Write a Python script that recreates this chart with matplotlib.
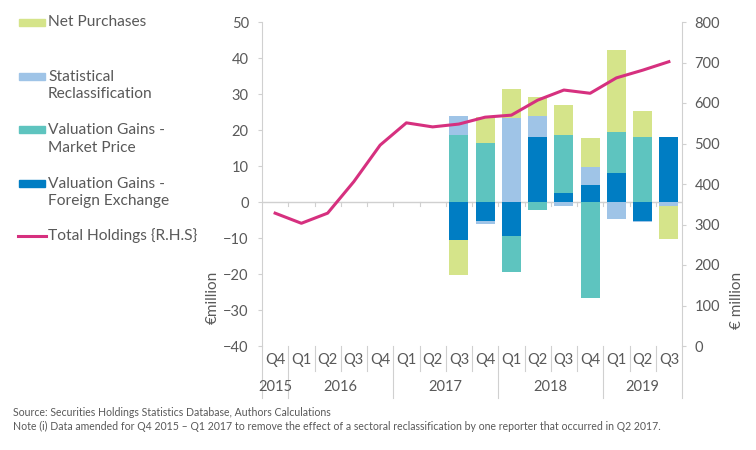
"""Holdings decomposition chart: stacked flows (L.H.S) with total holdings (R.H.S)."""
import matplotlib
matplotlib.use('Agg')
import matplotlib.pyplot as plt
import matplotlib.transforms as mtrans
from matplotlib.patches import Rectangle
from matplotlib.lines import Line2D
import numpy as np

plt.rcParams.update({
    'font.family': ['Lato', 'DejaVu Sans'],
    'font.size': 10.5,
    'axes.edgecolor': '#D0D0D0',
    'xtick.color': '#595959',
    'ytick.color': '#595959',
})

TXT = '#595959'
GREEN = '#D5E48A'
LBLUE = '#9FC4E7'
TEAL = '#5EC4BF'
DBLUE = '#007DC3'
PINK = '#D6307F'
GRID = '#D0D0D0'

quarters = ['Q4', 'Q1', 'Q2', 'Q3', 'Q4', 'Q1', 'Q2', 'Q3',
            'Q4', 'Q1', 'Q2', 'Q3', 'Q4', 'Q1', 'Q2', 'Q3']
years = ['2015', '2016', '2017', '2018', '2019']
year_span = [(0, 0), (1, 4), (5, 8), (9, 12), (13, 15)]

# flows, EUR million (no breakdown before Q3 2017)
fx_gains = [0, 0, 0, 0, 0, 0, 0, -10.6, -5.4, -9.4, 18.1, 2.5, 4.8, 8.1, -5.4, 18.1]
mp_gains = [0, 0, 0, 0, 0, 0, 0, 18.6, 16.4, -10.1, -2.1, 16.1, -26.8, 11.4, 18.1, 0]
reclass = [0, 0, 0, 0, 0, 0, 0, 5.3, -0.8, 23.3, 5.9, -1.0, 5.0, -4.8, -0.2, -1.0]
net_purch = [0, 0, 0, 0, 0, 0, 0, -9.7, 7.1, 8.1, 5.2, 8.4, 8.0, 22.8, 7.2, -9.2]
total_holdings = [328, 303, 328, 406, 496, 551, 541, 548, 565, 570,
                  607, 632, 624, 662, 681, 702]

series = [
    (fx_gains, DBLUE, 'Valuation Gains -\nForeign Exchange'),
    (mp_gains, TEAL, 'Valuation Gains -\nMarket Price'),
    (reclass, LBLUE, 'Statistical\nReclassification'),
    (net_purch, GREEN, 'Net Purchases'),
]

fig = plt.figure(figsize=(7.56, 4.5), dpi=100)
W, H = 756, 450
ax = fig.add_axes([262 / W, 1 - 346 / H, 420 / W, 324 / H])
x = np.arange(len(quarters))

pos = np.zeros(len(x))
neg = np.zeros(len(x))
for vals, col, _ in series:
    v = np.array(vals, dtype=float)
    bottom = np.where(v >= 0, pos, neg)
    ax.bar(x, v, 0.72, bottom=bottom, color=col, zorder=2, linewidth=0)
    pos = pos + np.clip(v, 0, None)
    neg = neg + np.clip(v, None, 0)

ax.set_xlim(-0.5, len(x) - 0.5)
ax.set_ylim(-40, 50)
ax.set_yticks(range(-40, 51, 10))
ax.tick_params(axis='y', length=3, width=0.8, color=GRID, pad=6.5, labelsize=10.5)
ax.set_xticks([])
for s in ['top', 'right', 'bottom']:
    ax.spines[s].set_visible(False)
ax.spines['left'].set_color(GRID)
ax.axhline(0, color=GRID, linewidth=1, zorder=1)

# category axis drawn by hand (labels low, with year groups)
trans = mtrans.blended_transform_factory(ax.transData, ax.transAxes)
for i in range(1, len(x)):
    ax.plot([i - 0.5, i - 0.5], [0, -1.1], color=GRID, lw=0.8, zorder=1)
for i, q in enumerate(quarters):
    ax.text(i, -0.043, q, transform=trans, ha='center', va='center',
            color=TXT, fontsize=10.5)
year_edges = [s for s, _ in year_span[1:]]
for i in range(len(x) + 1):
    b = i - 0.5
    if i in (0, len(x)) or i in year_edges:
        y0 = -0.16
    else:
        y0 = -0.078
    ax.plot([b, b], [0, y0], transform=trans, color=GRID, lw=0.8, clip_on=False)
for (a, b), yr in zip(year_span, years):
    ax.text((a + b) / 2, -0.127, yr, transform=trans, ha='center', va='center',
            color=TXT, fontsize=10.5)

ax2 = ax.twinx()
ax2.plot(x, total_holdings, color=PINK, linewidth=2.2, zorder=3)
ax2.set_ylim(0, 800)
ax2.set_yticks(range(0, 801, 100))
ax2.tick_params(axis='y', length=3, width=0.8, color=GRID, pad=6, labelsize=10.5)
for s in ['top', 'left', 'bottom']:
    ax2.spines[s].set_visible(False)
ax2.spines['right'].set_color(GRID)

fig.text(213 / W, 1 - 297 / H, '€million', rotation=90, ha='center', va='center',
         color=TXT, fontsize=11)
fig.text(737 / W, 1 - 300 / H, '€ million', rotation=90, ha='center', va='center',
         color=TXT, fontsize=11)

# legend on the left, placed by hand
legend_items = [
    (GREEN, 'Net Purchases', 22),
    (LBLUE, 'Statistical\nReclassification', 85.5),
    (TEAL, 'Valuation Gains -\nMarket Price', 139),
    (DBLUE, 'Valuation Gains -\nForeign Exchange', 192.5),
]
for col, lab, yc in legend_items:
    first = 22 if yc == 22 else yc - 9.5
    fig.patches.append(Rectangle((19 / W, 1 - (first + 3.5) / H), 26 / W, 7 / H,
                                 color=col, transform=fig.transFigure))
    fig.text(48 / W, 1 - yc / H, lab, ha='left', va='center', color=TXT,
             fontsize=11.2, linespacing=1.35)
fig.lines.append(Line2D([18 / W, 46 / W], [1 - 236 / H] * 2, color=PINK, lw=2.2,
                        transform=fig.transFigure))
fig.text(48 / W, 1 - 236 / H, 'Total Holdings {R.H.S}', ha='left', va='center',
         color=TXT, fontsize=11.2)

fig.text(13 / W, 1 - 413 / H, 'Source: Securities Holdings Statistics Database, Authors Calculations',
         ha='left', va='center', color=TXT, fontsize=7.6)
fig.text(13 / W, 1 - 426 / H,
         'Note (i) Data amended for Q4 2015 – Q1 2017 to remove the effect of a sectoral '
         'reclassification by one reporter that occurred in Q2 2017.',
         ha='left', va='center', color=TXT, fontsize=7.6)

fig.savefig('out.png', dpi=100, facecolor='white')
